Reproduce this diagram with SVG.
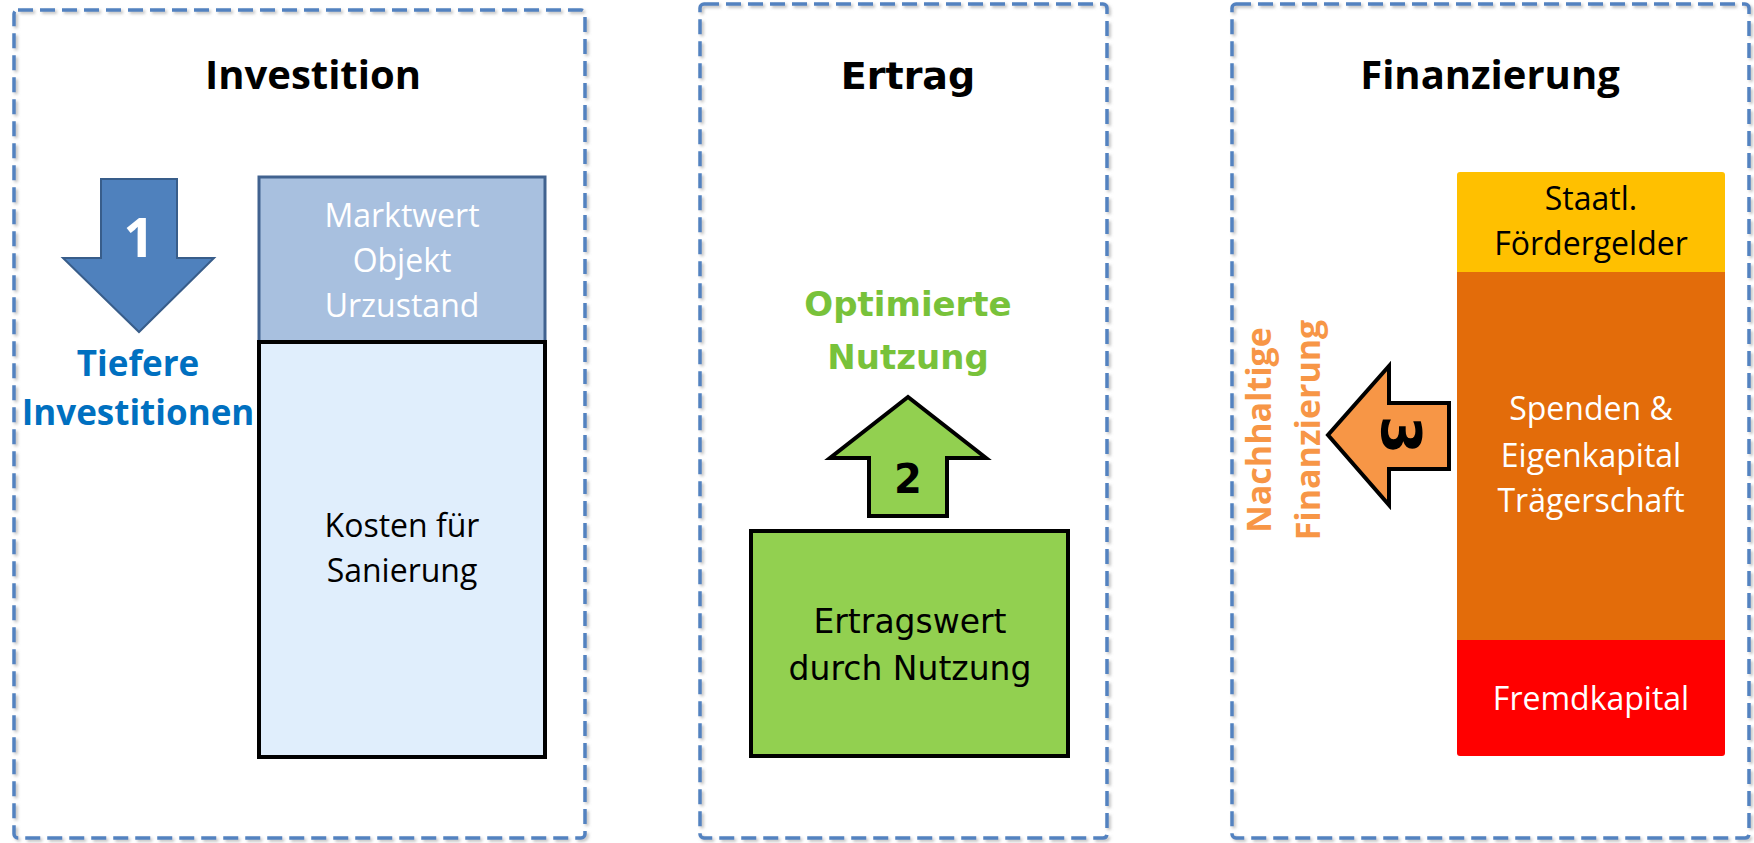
<svg xmlns="http://www.w3.org/2000/svg" width="1754" height="843" viewBox="0 0 1754 843">
<defs>
<filter id="sh" x="-5%" y="-5%" width="110%" height="110%">
<feDropShadow dx="2" dy="2" stdDeviation="1.5" flood-color="#808080" flood-opacity="0.5"/>
</filter>
</defs>
<style>
.panel{fill:none;stroke:#5282C0;stroke-width:3.5;stroke-dasharray:15 7;filter:url(#sh)}
.title{font-family:"Open Sans","Liberation Sans",sans-serif;font-weight:bold;font-size:40px;fill:#000;text-anchor:middle}
.body{font-family:"Open Sans","Liberation Sans",sans-serif;font-size:32px;text-anchor:middle}
.dv{font-family:"DejaVu Sans","Liberation Sans",sans-serif;text-anchor:middle}
.blk{stroke:#000;stroke-width:4;stroke-linejoin:miter}
</style>
<rect width="1754" height="843" fill="#fff"/>

<g id="panel-investition">
<rect class="panel" x="14" y="10" width="571" height="828" rx="4"/>
<text class="title" x="313" y="89">Investition</text>
</g>
<g id="panel-ertrag">
<rect class="panel" x="700" y="4" width="407" height="834" rx="4"/>
<text class="dv" x="908" y="89" font-size="38" font-weight="bold">Ertrag</text>
</g>
<g id="panel-finanzierung">
<rect class="panel" x="1232" y="4" width="517" height="834" rx="4"/>
<text class="title" x="1490" y="89">Finanzierung</text>
</g>

<g id="node-marktwert">
<rect x="259" y="177" width="286" height="165" fill="#A8C0DF" stroke="#41628F" stroke-width="3"/>
<text class="body" fill="#fff" font-size="33"><tspan x="402" y="227">Marktwert</tspan><tspan x="402" y="272">Objekt</tspan><tspan x="402" y="317">Urzustand</tspan></text>
</g>
<g id="node-kosten">
<rect x="259" y="342" width="286" height="415" fill="#E0EEFC" stroke="#000" stroke-width="4"/>
<text class="body" fill="#000"><tspan x="402" y="537">Kosten für</tspan><tspan x="402" y="582">Sanierung</tspan></text>
</g>
<g id="label-tiefere">
<text font-family="Open Sans, Liberation Sans, sans-serif" font-weight="bold" font-size="35" fill="#0070C0" text-anchor="middle"><tspan x="138" y="376">Tiefere</tspan><tspan x="138" y="425">Investitionen</tspan></text>
</g>

<g id="label-optimierte">
<text class="dv" font-weight="bold" font-size="34" fill="#78C23A"><tspan x="908" y="316">Optimierte</tspan><tspan x="908" y="369">Nutzung</tspan></text>
</g>
<g id="node-ertragswert">
<rect x="751" y="531" width="317" height="225" fill="#92D050" stroke="#000" stroke-width="4"/>
<text class="dv" font-size="33" fill="#000"><tspan x="910" y="633">Ertragswert</tspan><tspan x="910" y="680">durch Nutzung</tspan></text>
</g>

<g id="node-staatl">
<path d="M1460,172 H1722 Q1725,172 1725,175 V272 H1457 V175 Q1457,172 1460,172 Z" fill="#FFC000"/>
<text class="body" fill="#000"><tspan x="1591" y="210">Staatl.</tspan><tspan x="1591" y="255">Fördergelder</tspan></text>
</g>
<g id="node-spenden">
<rect x="1457" y="272" width="268" height="368" fill="#E36C0A"/>
<text class="body" fill="#fff"><tspan x="1591" y="420">Spenden &amp;</tspan><tspan x="1591" y="467">Eigenkapital</tspan><tspan x="1591" y="512">Trägerschaft</tspan></text>
</g>
<g id="node-fremd">
<path d="M1457,640 H1725 V753 Q1725,756 1722,756 H1460 Q1457,756 1457,753 Z" fill="#FF0000"/>
<text class="body" fill="#fff" x="1591" y="710">Fremdkapital</text>
</g>
<g id="label-nachhaltig">
<text font-family="Open Sans, Liberation Sans, sans-serif" font-weight="bold" font-size="34" fill="#F79646" text-anchor="middle" transform="translate(1271,430) rotate(-90)">Nachhaltige</text>
<text font-family="Open Sans, Liberation Sans, sans-serif" font-weight="bold" font-size="34" fill="#F79646" text-anchor="middle" transform="translate(1320,430) rotate(-90)">Finanzierung</text>
</g>

<g id="connectors">
<g id="arrow-1">
<path d="M101,179 H177 V258 H214 L139,332 L63,258 H101 Z" fill="#4F81BD" stroke="#385D8A" stroke-width="2"/>
<text font-family="Open Sans, Liberation Sans, sans-serif" font-weight="bold" font-size="54" fill="#fff" text-anchor="middle" x="139" y="257">1</text>
</g>
<g id="arrow-2">
<path class="blk" d="M869,516 V458 H830 L908,397 L986,458 H947 V516 Z" fill="#92D050"/>
<text class="dv" font-weight="bold" font-size="40" fill="#000" x="908" y="493">2</text>
</g>
<g id="arrow-3">
<path class="blk" d="M1449,403 H1389 V366 L1328,435 L1389,505 V469 H1449 Z" fill="#F79646"/>
<text class="dv" font-weight="bold" font-size="55" fill="#000" transform="translate(1382,435) rotate(90)">3</text>
</g>
</g>
</svg>
